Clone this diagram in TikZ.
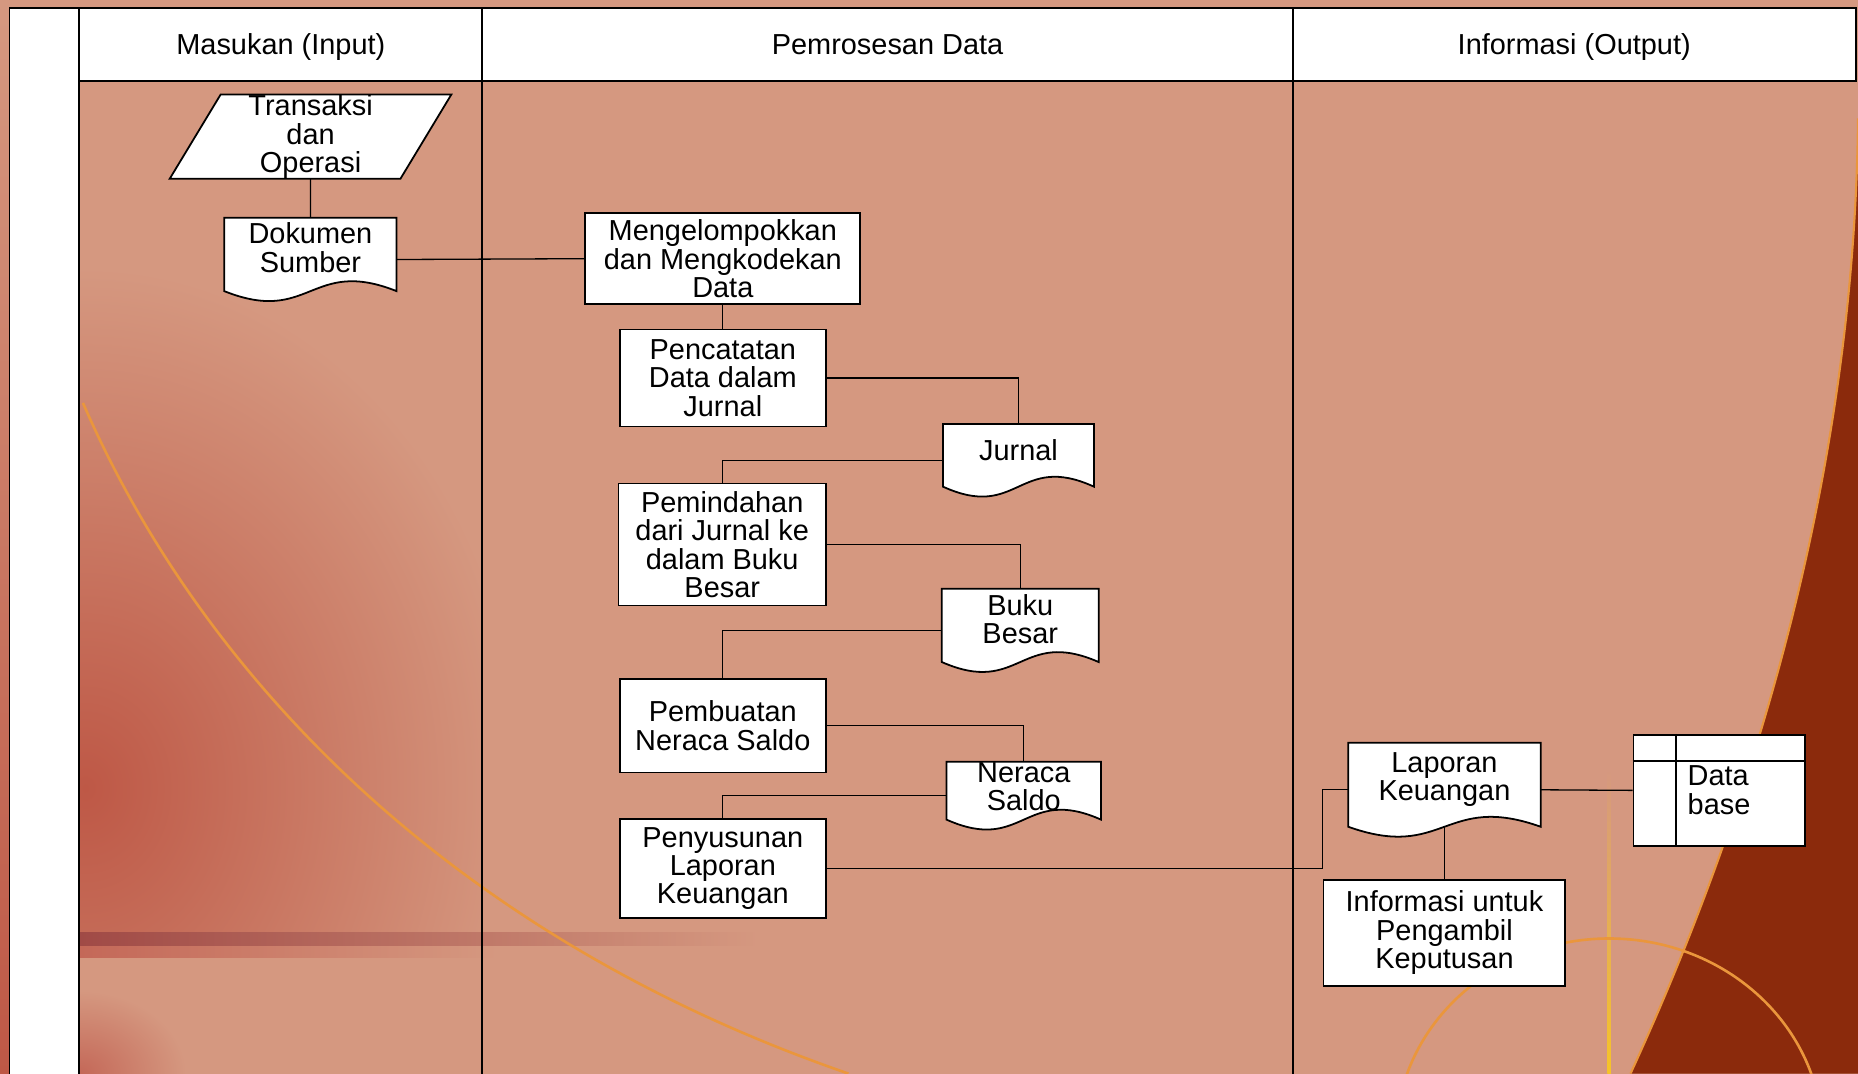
\documentclass[tikz,border=0pt]{standalone}
\usepackage{fontspec}
\setmainfont{Liberation Sans}
\pgfdeclarelayer{deco}
\pgfdeclarelayer{links}
\pgfdeclarelayer{shapes}
\pgfsetlayers{deco,links,shapes,main}
\definecolor{salmon}{RGB}{213,152,128}
\definecolor{redbg}{RGB}{190,88,70}
\definecolor{bandc}{RGB}{160,74,70}
\definecolor{bandl}{RGB}{196,104,88}
\definecolor{darkbr}{RGB}{139,42,12}
\definecolor{orng}{RGB}{234,150,60}
\definecolor{yel}{RGB}{246,196,40}
\newcommand{\fsz}{\fontsize{24.4}{24}\selectfont}
\newcommand{\mydocshape}[1]{%
  \filldraw[shapeline] (#1.north west) -- (#1.north east) -- ([yshift=8.5pt]#1.south east)
   .. controls ([yshift=37.5pt]#1.south) and ([yshift=-20.5pt]#1.south) .. ([yshift=8.5pt]#1.south west) -- cycle;}
\tikzset{
  shapeline/.style={draw=black, fill=white, line width=1.5pt},
  box/.style={shapeline, inner sep=0pt, align=center, font=\fsz},
  txt/.style={inner sep=0pt, align=center, font=\fsz},
  docn/.style={inner sep=0pt},
  hdr/.style={draw=black, fill=white, line width=1.6pt, inner sep=0pt, font=\fsz, text height=17.5pt, text depth=0pt},
  link/.style={draw=black, line width=1.1pt},
  frameline/.style={draw=black, line width=1.6pt},
}
\begin{document}
\begin{tikzpicture}[x=1pt,y=-1pt]
\useasboundingbox (0,0) rectangle (1568,906);
% ---------------- background ----------------
\begin{pgfonlayer}{deco}
  \fill[salmon] (0,0) rectangle (1568,906);
  \shade[top color=salmon, bottom color=redbg] (0,0) rectangle (8,906);
  \begin{scope}
    \clip (67,68) rectangle (407,795);
    \shade[inner color=redbg, outer color=salmon] (72,665) ellipse [x radius=370, y radius=440];
  \end{scope}
  \begin{scope}
    \clip (67,808) rectangle (407,906);
    \shade[inner color=bandl, outer color=salmon] (67,906) ellipse [x radius=90, y radius=70];
  \end{scope}
  \shade[left color=bandl, right color=salmon] (67,797) rectangle (420,808);
  \shade[left color=bandc, right color=salmon] (67,787) rectangle (640,798);
  \draw[orng, line width=2.2pt] (70,340) .. controls (170,570) and (380,790) .. (716,906);
  \fill[darkbr] (1568,100) .. controls (1565,400) and (1480,680) .. (1376,906) -- (1568,906) -- cycle;
  \draw[orng, line width=1.8pt] (1568,100) .. controls (1565,400) and (1480,680) .. (1376,906);
  \shade[top color=salmon, bottom color=yel] (1356.5,650) rectangle (1359.5,906);
  \begin{scope}
    \clip (0,0) rectangle (1568,906);
    \draw[orng, line width=2.2pt] (1358,960) ellipse [x radius=180, y radius=168];
  \end{scope}
  \fill[white] (8,7) rectangle (67,906);
  \draw[frameline] (8,906) -- (8,7) -- (67,7);
  \draw[frameline] (67,7) -- (67,906);
  \draw[frameline] (407,68) -- (407,906);
  \draw[frameline] (1091,68) -- (1091,906);
\end{pgfonlayer}
% ---------------- headers ----------------
\node[hdr, minimum width=340pt, minimum height=61pt] (h1) at (237,37.5) {Masukan (Input)};
\node[hdr, minimum width=684pt, minimum height=61pt] (h2) at (749,37.5) {Pemrosesan Data};
\node[hdr, minimum width=475pt, minimum height=61pt] (h3) at (1328.5,37.5) {Informasi (Output)};
% ---------------- nodes ----------------
\node[txt, minimum width=194.3pt, minimum height=70.5pt] (tr) at (262.1,115.25) {Transaksi\\dan\\Operasi};
\node[docn, minimum width=145pt, minimum height=70pt, label={[txt,yshift=10pt]center:{Dokumen\\Sumber}}] (dok) at (262,219) {};
\node[box, minimum width=232pt, minimum height=76.6pt] (mgk) at (610,218.3) {Mengelompokkan\\dan Mengkodekan\\Data};
\node[box, minimum width=174pt, minimum height=82pt] (pct) at (610,319) {Pencatatan\\Data dalam\\Jurnal};
\node[docn, minimum width=127pt, minimum height=61pt, label={[txt,yshift=8.8pt]center:{Jurnal}}] (jur) at (859.5,388.5) {};
\node[box, minimum width=175pt, minimum height=103pt] (pmd) at (609.5,459.5) {Pemindahan\\dari Jurnal ke\\dalam Buku\\Besar};
\node[docn, minimum width=132pt, minimum height=70pt, label={[txt,yshift=9.5pt]center:{Buku\\Besar}}] (buk) at (861,532) {};
\node[box, minimum width=174pt, minimum height=79pt] (pmb) at (610,612.5) {Pembuatan\\Neraca Saldo};
\node[docn, minimum width=130pt, minimum height=57pt, label={[txt,yshift=7.5pt]center:{Neraca\\Saldo}}] (ner) at (864,671.5) {};
\node[box, minimum width=174pt, minimum height=84pt] (pny) at (610,733) {Penyusunan\\Laporan\\Keuangan};
\node[docn, minimum width=162pt, minimum height=79pt, label={[txt,yshift=8.5pt]center:{Laporan\\Keuangan}}] (lap) at (1219,666.5) {};
\node[box, minimum width=144.5pt, minimum height=94pt, align=left] (db) at (1450.75,667) {Data\\base};
\node[box, minimum width=204pt, minimum height=89.4pt] (inf) at (1219,787.3) {Informasi untuk\\Pengambil\\Keputusan};
\draw[line width=1.5pt] ([xshift=36.5pt]db.north west) -- ([xshift=36.5pt]db.south west);
\draw[line width=1.5pt] ([yshift=-22.7pt]db.north west) -- ([yshift=-22.7pt]db.north east);
% ---------------- shapes ----------------
\begin{pgfonlayer}{shapes}
  \filldraw[shapeline] ([xshift=21.5pt]tr.north west) -- ([xshift=21.5pt]tr.north east)
     -- ([xshift=-21.5pt]tr.south east) -- ([xshift=-21.5pt]tr.south west) -- cycle;
  \mydocshape{dok}
  \mydocshape{jur}
  \mydocshape{buk}
  \mydocshape{ner}
  \mydocshape{lap}
\end{pgfonlayer}
% ---------------- connectors ----------------
\begin{pgfonlayer}{links}
  \coordinate (bend) at (1116,700);
  \draw[link] (tr.south) -- (dok.north);
  \draw[link] (dok.east) -- (mgk.west);
  \draw[link] (mgk.south) -- (pct.north);
  \draw[link] (pct.east) -| (jur.north);
  \draw[link] (jur.west) -| (pmd.north);
  \draw[link] (pmd.east) -| (buk.north);
  \draw[link] (buk.west) -| (pmb.north);
  \draw[link] (pmb.east) -| (ner.north);
  \draw[link] (ner.west) -| (pny.north);
  \draw[link] (pny.east) -- (bend |- pny.east) -- (bend |- lap.west) -- (lap.west);
  \draw[link] (lap.east) -- (db.west);
  \draw[link] (lap.center) -- (inf.north);
\end{pgfonlayer}
\end{tikzpicture}
\end{document}
